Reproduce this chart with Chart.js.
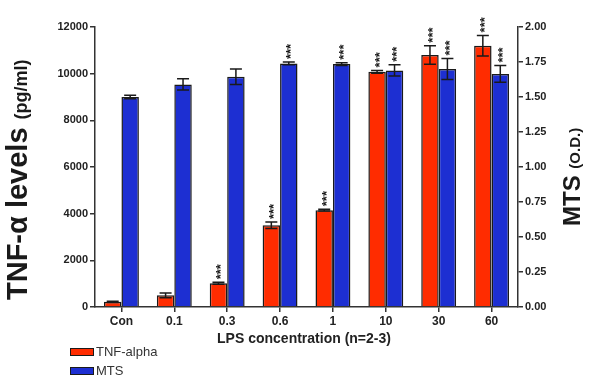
<!DOCTYPE html>
<html>
<head>
<meta charset="utf-8">
<script src="https://cdn.jsdelivr.net/npm/chart.js"></script>
<style>
  html, body { margin: 0; padding: 0; background: #fff; }
  #wrap { width: 600px; height: 389px; }
</style>
</head>
<body>
<div id="wrap"><canvas id="chart" width="600" height="389"></canvas></div>
<script>
// Data
const categories = ["Con", "0.1", "0.3", "0.6", "1", "10", "30", "60"];
const tnfValues = [220, 500, 1020, 3500, 4150, 10080, 10800, 11200];
const tnfErrors = [30, 100, 40, 140, 40, 60, 400, 440];
const tnfStars = ["", "", "***", "***", "***", "***", "***", "***"];
const mtsValues = [1.50, 1.59, 1.645, 1.74, 1.735, 1.69, 1.70, 1.665];
const mtsErrors = [0.012, 0.04, 0.055, 0.01, 0.01, 0.04, 0.075, 0.06];
const mtsStars = ["", "", "", "***", "***", "***", "***", "***"];
const leftTicks = [0, 2000, 4000, 6000, 8000, 10000, 12000];
const rightTicks = [0, 0.25, 0.5, 0.75, 1, 1.25, 1.5, 1.75, 2];

const RED = "#ff2c00";
const BLUE = "#1d2fd2";
const INK = "#1a1a1a";
const FONT = "'Liberation Sans', Arial, Helvetica, sans-serif";

const errorBars = {
  id: "errorBars",
  afterDatasetsDraw(chart) {
    const ctx = chart.ctx;
    const sets = [
      { errs: tnfErrors, stars: tnfStars },
      { errs: mtsErrors, stars: mtsStars },
    ];
    sets.forEach((s, i) => {
      const meta = chart.getDatasetMeta(i);
      const scale = chart.scales[meta.yAxisID];
      const values = chart.data.datasets[i].data;
      meta.data.forEach((bar, j) => {
        const top = scale.getPixelForValue(values[j] + s.errs[j]);
        const bot = scale.getPixelForValue(values[j] - s.errs[j]);
        ctx.save();
        ctx.strokeStyle = INK;
        ctx.lineWidth = 1.5;
        ctx.beginPath();
        ctx.moveTo(bar.x, top);
        ctx.lineTo(bar.x, bot);
        ctx.moveTo(bar.x - 6, top);
        ctx.lineTo(bar.x + 6, top);
        ctx.moveTo(bar.x - 6, bot);
        ctx.lineTo(bar.x + 6, bot);
        ctx.stroke();
        if (s.stars[j]) {
          ctx.translate(bar.x, top - 3);
          ctx.rotate(-Math.PI / 2);
          ctx.fillStyle = INK;
          ctx.font = "bold 13px " + FONT;
          ctx.textAlign = "left";
          ctx.textBaseline = "middle";
          ctx.fillText(s.stars[j], 0, 3);
        }
        ctx.restore();
      });
    });
  }
};

// axis titles with two font sizes, plus the legend box
const decorations = {
  id: "decorations",
  afterDraw(chart) {
    const ctx = chart.ctx;
    ctx.save();
    ctx.fillStyle = INK;
    ctx.textAlign = "left";
    ctx.textBaseline = "alphabetic";

    // left title
    ctx.save();
    ctx.translate(27, 300);
    ctx.rotate(-Math.PI / 2);
    ctx.font = "bold 29px " + FONT;
    const main = "TNF-\u03b1 levels ";
    ctx.fillText(main, 0, 0);
    const w = ctx.measureText(main).width;
    ctx.font = "bold 18px " + FONT;
    ctx.fillText("(pg/ml)", w, 0);
    ctx.restore();

    // right title
    ctx.save();
    ctx.translate(580, 226);
    ctx.rotate(-Math.PI / 2);
    ctx.font = "bold 24px " + FONT;
    ctx.fillText("MTS ", 0, 0);
    const w2 = ctx.measureText("MTS ").width;
    ctx.font = "bold 15px " + FONT;
    ctx.fillText("(O.D.)", w2, 0);
    ctx.restore();

    // x title
    ctx.font = "bold 14px " + FONT;
    ctx.textAlign = "center";
    ctx.textBaseline = "middle";
    ctx.fillStyle = "#222";
    ctx.fillText("LPS concentration (n=2-3)", 304, 339);

    // legend
    const items = [["TNF-alpha", RED, 348], ["MTS", BLUE, 367]];
    ctx.textAlign = "left";
    ctx.font = "13px " + FONT;
    items.forEach(([label, color, y]) => {
      ctx.fillStyle = color;
      ctx.fillRect(70, y, 24, 8);
      ctx.strokeStyle = INK;
      ctx.lineWidth = 1;
      ctx.strokeRect(70.5, y + 0.5, 23, 7);
      ctx.fillStyle = "#333";
      ctx.fillText(label, 96, y + 4.5);
    });
    ctx.restore();
  }
};

const axisGrid = {
  display: true,
  drawOnChartArea: false,
  color: "#333",
  tickColor: "#333",
  lineWidth: 1.5,
  tickLength: 5,
};

new Chart(document.getElementById("chart"), {
  type: "bar",
  data: {
    labels: categories,
    datasets: [
      {
        label: "TNF-alpha",
        data: tnfValues,
        yAxisID: "y",
        backgroundColor: RED,
        borderColor: INK,
        borderWidth: 1.5,
        categoryPercentage: 0.66,
        barPercentage: 1,
      },
      {
        label: "MTS",
        data: mtsValues,
        yAxisID: "y1",
        backgroundColor: BLUE,
        borderColor: INK,
        borderWidth: 1.5,
        categoryPercentage: 0.66,
        barPercentage: 1,
      },
    ],
  },
  options: {
    responsive: false,
    animation: false,
    layout: { padding: { top: 27, left: 0, right: 0, bottom: 0 } },
    plugins: { legend: { display: false }, tooltip: { enabled: false } },
    scales: {
      x: {
        grid: { ...axisGrid, offset: false },
        border: { color: "#333", width: 1.5 },
        ticks: { color: "#222", font: { family: FONT, size: 12, weight: "bold" }, padding: 2, maxRotation: 0 },
        afterFit(scale) { scale.height = 82; },
      },
      y: {
        position: "left",
        min: 0,
        max: 12000,
        grid: axisGrid,
        border: { color: "#333", width: 1.5 },
        afterBuildTicks(scale) { scale.ticks = leftTicks.map(v => ({ value: v })); },
        ticks: { color: "#222", font: { family: FONT, size: 11, weight: "bold" }, padding: 2, callback: v => String(v) },
        afterFit(scale) { scale.width = 95; },
      },
      y1: {
        position: "right",
        min: 0,
        max: 2,
        grid: axisGrid,
        border: { color: "#333", width: 1.5 },
        afterBuildTicks(scale) { scale.ticks = rightTicks.map(v => ({ value: v })); },
        ticks: { color: "#222", font: { family: FONT, size: 11, weight: "bold" }, padding: 2, callback: v => v.toFixed(2) },
        afterFit(scale) { scale.width = 82; },
      },
    },
  },
  plugins: [errorBars, decorations],
});
</script>
</body>
</html>
